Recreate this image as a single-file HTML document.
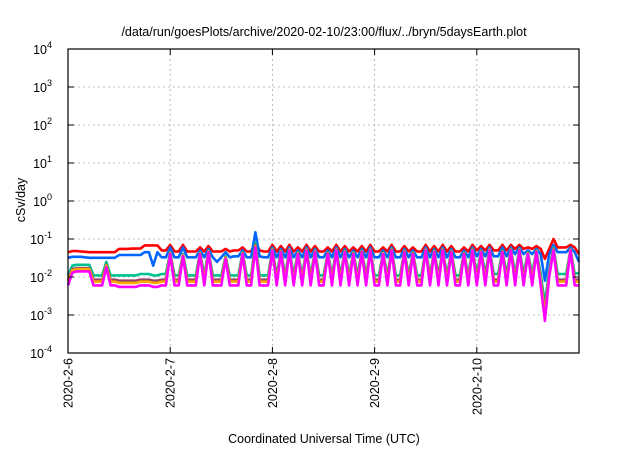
<!DOCTYPE html>
<html><head><meta charset="utf-8"><style>
body{margin:0;background:#fff;}
svg text{font-family:"Liberation Sans",sans-serif;fill:#000;}
</style></head><body>
<svg id="chart" width="640" height="448" xmlns="http://www.w3.org/2000/svg">
<text x="324" y="36" font-size="12.5" text-anchor="middle">/data/run/goesPlots/archive/2020-02-10/23:00/flux/../bryn/5daysEarth.plot</text>
<text transform="translate(25,200) rotate(-90)" font-size="12.5" text-anchor="middle">cSv/day</text>
<text x="324" y="443" font-size="12.5" text-anchor="middle">Coordinated Universal Time (UTC)</text>
<g id="grid"></g><g id="series"></g><g id="axes"></g>
</svg>
<script>
const xTickLabels=["2020-2-6","2020-2-7","2020-2-8","2020-2-9","2020-2-10"];
const yTickExps=[4,3,2,1,0,-1,-2,-3,-4];
const seriesColors=["#ff0000","#0066ff","#00c090","#994466","#ffaa00","#ff00ff"];
const red=[0.045,0.048,0.048,0.047,0.046,0.045,0.045,0.045,0.045,0.045,0.045,0.045,0.055,0.055,0.055,0.056,0.056,0.056,0.068,0.068,0.068,0.068,0.05,0.05,
0.07,0.047,0.047,0.07,0.047,0.047,0.047,0.06,0.047,0.065,0.047,0.047,0.047,0.055,0.047,0.05,0.05,0.06,0.047,0.047,0.08,0.05,0.047,0.047,
0.07,0.047,0.065,0.047,0.07,0.047,0.06,0.047,0.07,0.047,0.065,0.047,0.047,0.06,0.047,0.07,0.047,0.065,0.047,0.06,0.047,0.065,0.047,0.07,
0.047,0.047,0.06,0.047,0.07,0.047,0.047,0.065,0.047,0.06,0.047,0.047,0.07,0.047,0.065,0.047,0.07,0.047,0.065,0.047,0.047,0.06,0.047,0.07,
0.05,0.065,0.05,0.07,0.05,0.05,0.07,0.05,0.07,0.055,0.07,0.055,0.06,0.055,0.065,0.055,0.03,0.055,0.1,0.06,0.06,0.06,0.07,0.06,0.04];
const blue=[0.032,0.034,0.034,0.034,0.033,0.032,0.032,0.032,0.032,0.032,0.032,0.032,0.038,0.038,0.038,0.038,0.038,0.038,0.045,0.045,0.02,0.045,0.033,0.033,
0.06,0.033,0.033,0.06,0.033,0.033,0.033,0.05,0.033,0.055,0.033,0.025,0.033,0.045,0.033,0.035,0.035,0.05,0.033,0.033,0.15,0.035,0.033,0.033,
0.06,0.033,0.055,0.033,0.06,0.033,0.05,0.033,0.06,0.033,0.055,0.033,0.033,0.05,0.033,0.06,0.033,0.055,0.033,0.05,0.033,0.055,0.033,0.06,
0.033,0.033,0.05,0.033,0.06,0.033,0.033,0.055,0.033,0.05,0.033,0.033,0.06,0.033,0.055,0.033,0.06,0.033,0.055,0.033,0.033,0.05,0.033,0.06,
0.035,0.055,0.035,0.06,0.035,0.035,0.06,0.035,0.06,0.04,0.06,0.04,0.05,0.04,0.055,0.04,0.008,0.04,0.07,0.045,0.045,0.045,0.06,0.045,0.025];
const green=[0.011,0.02,0.021,0.021,0.021,0.021,0.011,0.011,0.011,0.025,0.011,0.011,0.011,0.011,0.011,0.011,0.011,0.012,0.012,0.012,0.011,0.011,0.012,0.012,
0.045,0.011,0.011,0.04,0.011,0.011,0.011,0.045,0.011,0.05,0.011,0.011,0.011,0.035,0.011,0.011,0.011,0.045,0.011,0.011,0.08,0.011,0.011,0.011,
0.055,0.011,0.05,0.011,0.055,0.011,0.045,0.011,0.055,0.011,0.05,0.011,0.011,0.045,0.011,0.055,0.011,0.05,0.011,0.045,0.011,0.05,0.011,0.055,
0.011,0.011,0.045,0.011,0.055,0.011,0.011,0.05,0.011,0.045,0.011,0.011,0.055,0.011,0.05,0.011,0.055,0.011,0.05,0.011,0.011,0.045,0.011,0.055,
0.012,0.05,0.012,0.055,0.012,0.012,0.05,0.012,0.055,0.012,0.055,0.012,0.045,0.012,0.05,0.012,0.002,0.015,0.06,0.012,0.012,0.012,0.055,0.012,0.013];
const purple=[0.0085,0.016,0.017,0.017,0.017,0.017,0.0085,0.0085,0.0085,0.021,0.0085,0.0085,0.008,0.008,0.008,0.008,0.008,0.0085,0.0085,0.0085,0.008,0.008,0.0085,0.0085,
0.043,0.0085,0.0085,0.038,0.0085,0.0085,0.0085,0.043,0.0085,0.048,0.0085,0.0085,0.0085,0.033,0.0085,0.0085,0.0085,0.043,0.0085,0.0085,0.07,0.0085,0.0085,0.0085,
0.053,0.0085,0.048,0.0085,0.053,0.0085,0.043,0.0085,0.053,0.0085,0.048,0.0085,0.0085,0.043,0.0085,0.053,0.0085,0.048,0.0085,0.043,0.0085,0.048,0.0085,0.053,
0.0085,0.0085,0.043,0.0085,0.053,0.0085,0.0085,0.048,0.0085,0.043,0.0085,0.0085,0.053,0.0085,0.048,0.0085,0.053,0.0085,0.048,0.0085,0.0085,0.043,0.0085,0.053,
0.0085,0.048,0.0085,0.053,0.0085,0.0085,0.048,0.0085,0.053,0.0085,0.053,0.0085,0.043,0.0085,0.048,0.0085,0.0012,0.012,0.055,0.0085,0.0085,0.0085,0.053,0.0085,0.0085];
const orange=[0.0075,0.015,0.016,0.016,0.016,0.016,0.0075,0.0075,0.0075,0.02,0.0075,0.0075,0.007,0.007,0.007,0.007,0.007,0.0075,0.0075,0.0075,0.007,0.007,0.0075,0.0075,
0.042,0.0075,0.0075,0.037,0.0075,0.0075,0.0075,0.042,0.0075,0.047,0.0075,0.0075,0.0075,0.032,0.0075,0.0075,0.0075,0.042,0.0075,0.0075,0.065,0.0075,0.0075,0.0075,
0.052,0.0075,0.047,0.0075,0.052,0.0075,0.042,0.0075,0.052,0.0075,0.047,0.0075,0.0075,0.042,0.0075,0.052,0.0075,0.047,0.0075,0.042,0.0075,0.047,0.0075,0.052,
0.0075,0.0075,0.042,0.0075,0.052,0.0075,0.0075,0.047,0.0075,0.042,0.0075,0.0075,0.052,0.0075,0.047,0.0075,0.052,0.0075,0.047,0.0075,0.0075,0.042,0.0075,0.052,
0.0075,0.047,0.0075,0.052,0.0075,0.0075,0.047,0.0075,0.052,0.0075,0.052,0.0075,0.042,0.0075,0.047,0.0075,0.001,0.011,0.052,0.0075,0.0075,0.0075,0.052,0.0075,0.0075];
const magenta=[0.006,0.013,0.014,0.014,0.014,0.014,0.006,0.006,0.006,0.018,0.006,0.006,0.0055,0.0055,0.0055,0.0055,0.0055,0.006,0.006,0.006,0.0055,0.0055,0.006,0.006,
0.04,0.006,0.006,0.035,0.006,0.006,0.006,0.04,0.006,0.045,0.006,0.006,0.006,0.03,0.006,0.006,0.006,0.04,0.006,0.006,0.06,0.006,0.006,0.006,
0.05,0.006,0.045,0.006,0.05,0.006,0.04,0.006,0.05,0.006,0.045,0.006,0.006,0.04,0.006,0.05,0.006,0.045,0.006,0.04,0.006,0.045,0.006,0.05,
0.006,0.006,0.04,0.006,0.05,0.006,0.006,0.045,0.006,0.04,0.006,0.006,0.05,0.006,0.045,0.006,0.05,0.006,0.045,0.006,0.006,0.04,0.006,0.05,
0.006,0.045,0.006,0.05,0.006,0.006,0.045,0.006,0.05,0.006,0.05,0.006,0.04,0.006,0.045,0.006,0.0007,0.01,0.05,0.006,0.006,0.006,0.05,0.006,0.006];
const allSeries=[red,blue,green,purple,orange,magenta];
const NS="http://www.w3.org/2000/svg";
const L=68,R=579,T=49,B=353,DAYS=5;
function xDay(d){return L+(R-L)*d/DAYS;}
function yVal(v){return T+(4-Math.log10(v))*(B-T)/8;}
function mk(tag,attrs,parent){const e=document.createElementNS(NS,tag);for(const k in attrs)e.setAttribute(k,attrs[k]);parent.appendChild(e);return e;}
const grid=document.getElementById('grid'),ser=document.getElementById('series'),axes=document.getElementById('axes');
yTickExps.forEach(function(p){
  const y=yVal(Math.pow(10,p));
  if(p<4&&p>-4){const g=mk('line',{x1:L,x2:R,y1:y,y2:y,stroke:'#aaa','stroke-width':0.8,'stroke-dasharray':'2,3'},grid);
  
  }
  const t=mk('line',{x1:L,x2:L+6,y1:y,y2:y,stroke:'#000'},axes);
  
  
  const t2=mk('line',{x1:R-6,x2:R,y1:y,y2:y,stroke:'#000'},axes);
  
  
  const tx=mk('text',{x:L-16,y:y+5,'font-size':12.5,'text-anchor':'end'},axes);
  
  
  tx.textContent='10';
  const sp=mk('tspan',{'font-size':9,dy:-6},tx);sp.textContent=String(p);
});
xTickLabels.forEach(function(lab,i){
  const x=xDay(i);
  if(i>0){const g=mk('line',{x1:x,x2:x,y1:T,y2:B,stroke:'#aaa','stroke-width':0.8,'stroke-dasharray':'2,3'},grid);
  
  }
  const t=mk('line',{x1:x,x2:x,y1:B-6,y2:B,stroke:'#000'},axes);
  
  
  const t2=mk('line',{x1:x,x2:x,y1:T,y2:T+6,stroke:'#000'},axes);
  
  
  const tx=mk('text',{transform:'translate('+(x+4.5)+','+(B+5)+') rotate(-90)','font-size':12.5,'text-anchor':'end'},axes);
  
  
  tx.textContent=lab;
});
const frame=mk('rect',{x:L,y:T,width:R-L,height:B-T,fill:'none',stroke:'#000','stroke-width':1.2},axes);


allSeries.forEach(function(arr,si){
  const n=arr.length;
  const pts=arr.map(function(v,i){return xDay(DAYS*i/(n-1)).toFixed(1)+','+yVal(v).toFixed(1);}).join(' ');
  const pl=mk('polyline',{points:pts,fill:'none',stroke:seriesColors[si],'stroke-width':2.6,'stroke-linejoin':'round'},ser);
  
  
});
</script>
</body></html>
